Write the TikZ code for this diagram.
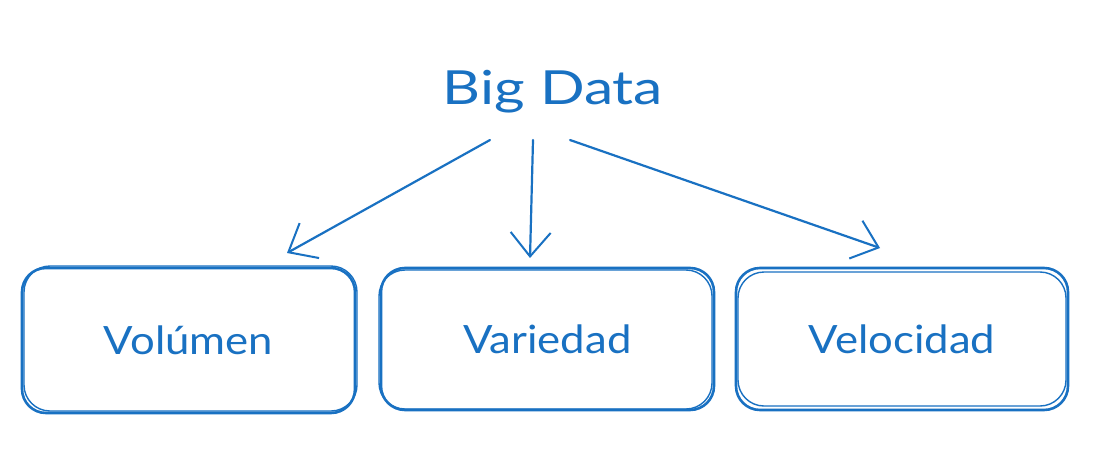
\documentclass[tikz,border=0pt]{standalone}
\usepackage{fontspec}
\setmainfont{Lato}
\usetikzlibrary{arrows.meta}
\definecolor{sketchblue}{HTML}{1971C2}
\newcommand{\wideA}[1]{\scalebox{1.12}[1]{#1}}
\newcommand{\wideB}[1]{\scalebox{1.25}[1]{#1}}
\begin{document}
\begin{tikzpicture}[x=1pt,y=1pt,
  boxshape/.style={draw=sketchblue, line width=2.6pt, rounded corners=24pt},
  boxshade/.style={draw=sketchblue, line width=1.4pt, rounded corners=26pt},
  labeltext/.style={text=sketchblue, font=\fontsize{39}{44}\selectfont},
  titletext/.style={text=sketchblue, font=\fontsize{47}{52}\selectfont},
  arrowline/.style={draw=sketchblue, line width=2.2pt, line cap=round,
    -{Straight Barb[length=24pt,width=40pt,line width=2pt]}}
]
\useasboundingbox[fill=white] (0,0) rectangle (1102,-460);
% boxes
\node[boxshape, minimum width=333pt, minimum height=145pt] (vol) at (188.5,-340.5) {};
\draw[boxshade] (24,-266) rectangle (357,-411);
\node[labeltext] at (vol.center) {\wideA{Volúmen}};
\node[boxshape, minimum width=333pt, minimum height=142pt] (var) at (547.5,-339) {};
\draw[boxshade] (379,-270) rectangle (712,-409);
\node[labeltext] at (var.center) {\wideA{Variedad}};
\node[boxshape, minimum width=332pt, minimum height=142pt] (vel) at (902,-339) {};
\draw[boxshade] (738,-272) rectangle (1066,-406);
\node[labeltext] at (vel.center) {\wideA{Velocidad}};
% title
\node[titletext] (bd) at (553,-92) {\wideB{Big Data}};
% arrow ends
\coordinate (s1) at (490,-140);
\coordinate (e1) at (287,-253);
\coordinate (s2) at (533,-140);
\coordinate (e2) at (530,-258);
\coordinate (s3) at (570,-140);
\coordinate (e3) at (880,-248);
\draw[arrowline] (s1) -- (e1);
\draw[arrowline] (s2) -- (e2);
\draw[arrowline] (s3) -- (e3);
\end{tikzpicture}
\end{document}
